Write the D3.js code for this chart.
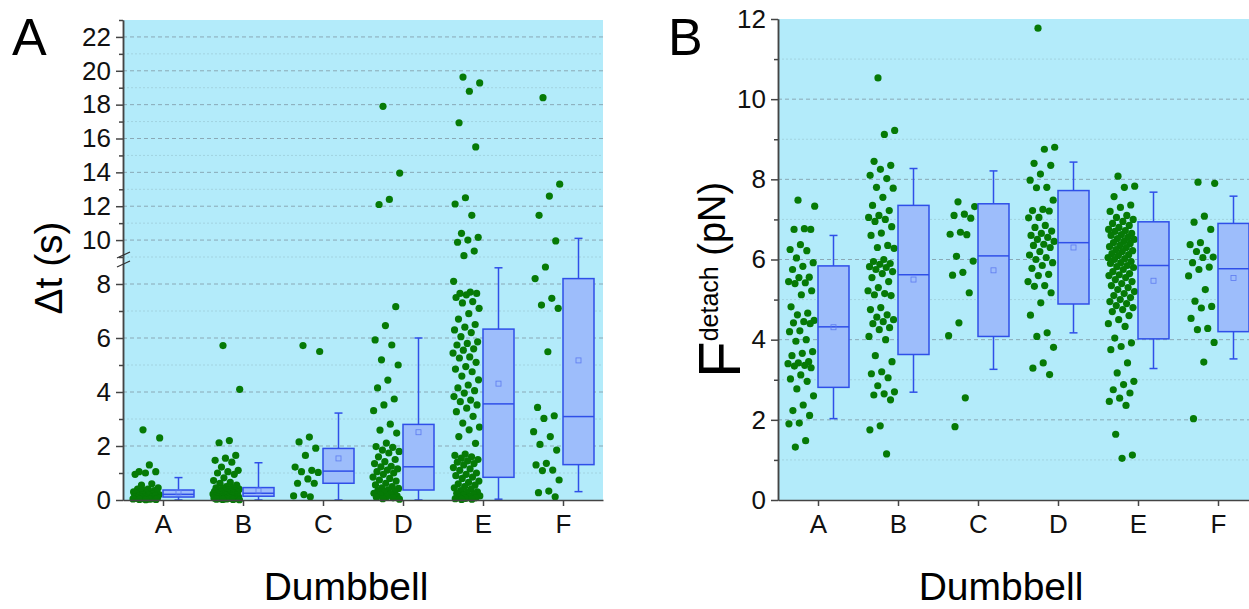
<!DOCTYPE html>
<html>
<head>
<meta charset="utf-8">
<script src="https://cdn.jsdelivr.net/npm/d3@7"></script>
<style>
  body { margin: 0; background: #fff; }
  svg { font-family: 'Liberation Sans', Arial, sans-serif; }
  .axis { color: #444; }
  .axis path, .axis line { stroke-width: 1.5; }
  .axis text { fill: #111; font-family: 'Liberation Sans', Arial, sans-serif; }
</style>
</head>
<body>
<svg id="chart" width="1249" height="609"></svg>
<script>
const dumbbells = ['A', 'B', 'C', 'D', 'E', 'F']

// Panel A: dwell time (s), one list per dumbbell
const dtA = [2.6, 2.3, 1.3, 1.05, 1.05, 1.0, 0.95, 0.6, 0.55, 0.45, 0.4, 0.4, 0.35, 0.35, 0.3, 0.3, 0.3, 0.28, 0.25, 0.25,
  0.22, 0.2, 0.2, 0.18, 0.15, 0.15, 0.12, 0.12, 0.1, 0.1, 0.08, 0.08, 0.06, 0.05, 0.05, 0.04, 0.03, 0.02, 0.02, 0.01]
const dtB = [5.72, 4.1, 2.2, 2.12, 1.65, 1.55, 1.47, 1.4, 1.22, 1.1, 1.05, 1.0, 0.95, 0.82, 0.72, 0.65, 0.62, 0.55, 0.5,
  0.45, 0.45, 0.42, 0.4, 0.38, 0.36, 0.35, 0.33, 0.32, 0.3, 0.3, 0.28, 0.27, 0.25, 0.25, 0.23, 0.22, 0.2, 0.2, 0.18,
  0.17, 0.15, 0.15, 0.13, 0.12, 0.1, 0.1, 0.09, 0.08, 0.07, 0.06, 0.05, 0.05, 0.04, 0.03, 0.02, 0.02, 0.01]
const dtC = [5.72, 5.5, 2.33, 2.15, 1.92, 1.65, 1.22, 1.1, 1.05, 1.02, 0.78, 0.62, 0.62, 0.2, 0.15, 0.12]
const dtD = [17.9, 13.96, 12.4, 12.1, 7.16, 6.46, 5.93, 5.74, 5.19, 5.0, 4.44, 4.15, 3.74, 3.52, 3.31, 2.81, 2.59, 2.48,
  2.11, 1.98, 1.95, 1.85, 1.8, 1.74, 1.6, 1.5, 1.42, 1.35, 1.25, 1.23, 1.15, 1.11, 1.05, 1.0, 0.95, 0.85, 0.8, 0.74,
  0.7, 0.62, 0.56, 0.5, 0.45, 0.43, 0.38, 0.35, 0.31, 0.28, 0.25, 0.22, 0.19, 0.15, 0.12, 0.1, 0.08, 0.05, 0.03]
const dtE = [19.63, 19.28, 18.79, 16.93, 15.5, 12.5, 12.13, 11.46, 10.4, 10.16, 10.0, 9.87, 9.35, 9.08,
  8.1, 7.7, 7.65, 7.65, 7.6, 7.5, 7.35, 7.3, 7.1, 6.9, 6.7, 6.5, 6.4, 6.3, 6.2, 6.05, 5.86, 5.8, 5.74, 5.6, 5.55, 5.44,
  5.3, 5.26, 5.1, 4.94, 4.85, 4.75, 4.59, 4.45, 4.26, 4.15, 4.05, 3.96, 3.83, 3.7, 3.64, 3.52, 3.4, 3.27, 3.1, 2.85,
  2.7, 2.6, 2.35, 2.1, 1.7, 1.65, 1.6, 1.55, 1.5, 1.45, 1.4, 1.35, 1.3, 1.2, 1.15, 1.1, 1.0, 0.95, 0.9, 0.85, 0.8,
  0.7, 0.65, 0.6, 0.55, 0.5, 0.45, 0.4, 0.35, 0.3, 0.28, 0.25, 0.2, 0.18, 0.15, 0.12, 0.1, 0.08, 0.06, 0.05, 0.03, 0.02]
const dtF = [18.41, 13.3, 12.6, 11.46, 9.95, 8.63, 8.2, 7.47, 7.22, 7.1, 5.49, 3.43, 3.12, 3.02, 2.53, 2.35, 2.06,
  1.85, 1.36, 1.3, 1.11, 1.09, 0.74, 0.33, 0.27, 0.12]
// box stats: [min, q1, median, q3, max, mean]
const dtBoxes = [
  [0, 0.11, 0.21, 0.37, 0.83, 0.28],
  [0, 0.14, 0.25, 0.46, 1.38, 0.35],
  [0, 0.62, 1.07, 1.91, 3.22, 1.54],
  [0, 0.37, 1.23, 2.8, 6.0, 2.51],
  [0.03, 0.84, 3.56, 6.33, 8.6, 4.31],
  [0.31, 1.31, 3.09, 8.2, 10.1, 5.17]
]
const dtLowTicks = [0, 2, 4, 6, 8]
const dtLowMinor = [1, 3, 5, 7]
const dtHighTicks = [10, 12, 14, 16, 18, 20, 22]
const dtHighMinor = [9, 11, 13, 15, 17, 19, 21, 23]

// Panel B: detachment force (pN)
const fA = [7.48, 7.33, 6.77, 6.75, 6.75, 6.37, 6.25, 6.22, 6.04, 5.92, 5.83, 5.75, 5.56, 5.55, 5.45, 5.42, 5.4, 5.22,
  5.12, 4.82, 4.66, 4.62, 4.48, 4.45, 4.42, 4.4, 4.22, 4.2, 4.0, 3.96, 3.7, 3.66, 3.6, 3.45, 3.42, 3.4, 3.36, 3.34,
  3.3, 3.12, 3.02, 2.96, 2.77, 2.6, 2.37, 2.23, 2.11, 1.92, 1.9, 1.48, 1.32]
const fB = [10.53, 9.22, 9.12, 8.45, 8.35, 8.25, 8.1, 8.02, 7.8, 7.78, 7.55, 7.35, 7.22, 7.1, 7.05, 7.0, 6.95, 6.82,
  6.66, 6.6, 6.35, 6.3, 6.28, 6.0, 5.95, 5.9, 5.88, 5.82, 5.8, 5.75, 5.7, 5.65, 5.55, 5.45, 5.3, 5.22, 5.15, 5.12,
  5.1, 4.8, 4.75, 4.62, 4.56, 4.5, 4.45, 4.4, 4.3, 4.25, 4.08, 4.0, 3.6, 3.45, 3.2, 3.15, 3.05, 2.85, 2.7, 2.65,
  2.62, 2.5, 1.85, 1.75, 1.15]
const fC = [7.44, 7.32, 7.13, 7.1, 7.03, 6.68, 6.63, 6.62, 6.08, 5.96, 5.68, 5.61, 5.17, 4.42, 4.1, 2.55, 1.83]
const fD = [11.77, 8.8, 8.75, 8.4, 8.35, 8.13, 7.98, 7.8, 7.79, 7.48, 7.25, 7.22, 7.21, 7.05, 7.04, 6.85, 6.8, 6.71,
  6.65, 6.6, 6.55, 6.5, 6.45, 6.38, 6.35, 6.3, 6.2, 6.11, 6.05, 6.0, 5.92, 5.85, 5.78, 5.63, 5.6, 5.45, 5.35, 5.33,
  5.17, 4.92, 4.61, 4.17, 4.08, 3.81, 3.42, 3.29, 3.13]
const fE = [8.08, 7.83, 7.8, 7.57, 7.36, 7.3, 7.2, 7.1, 7.05, 7.0, 6.95, 6.9, 6.85, 6.8, 6.75, 6.72, 6.7, 6.65, 6.62,
  6.6, 6.55, 6.52, 6.5, 6.45, 6.42, 6.4, 6.35, 6.32, 6.3, 6.25, 6.22, 6.2, 6.15, 6.12, 6.1, 6.05, 6.02, 6.0, 5.95,
  5.92, 5.9, 5.85, 5.82, 5.8, 5.75, 5.7, 5.65, 5.62, 5.6, 5.55, 5.5, 5.45, 5.4, 5.35, 5.3, 5.25, 5.2, 5.15, 5.1,
  5.05, 5.0, 4.95, 4.9, 4.85, 4.8, 4.75, 4.7, 4.6, 4.5, 4.4, 4.33, 4.04, 3.92, 3.83, 3.75, 3.42, 3.17, 2.96, 2.88,
  2.75, 2.67, 2.54, 2.46, 2.36, 1.64, 1.12, 1.04]
const fF = [7.93, 7.9, 7.08, 6.93, 6.75, 6.42, 6.37, 6.23, 6.2, 6.06, 6.05, 5.92, 5.81, 5.75, 5.59, 5.25, 4.96, 4.83,
  4.79, 4.53, 4.28, 4.25, 3.93, 3.44, 2.03]
const fBoxes = [
  [2.03, 2.81, 4.32, 5.84, 6.6, 4.31],
  [2.69, 3.63, 5.62, 7.35, 8.27, 5.5],
  [3.26, 4.08, 6.09, 7.39, 8.21, 5.73],
  [4.17, 4.89, 6.42, 7.72, 8.43, 6.3],
  [3.28, 4.02, 5.85, 6.94, 7.68, 5.47],
  [3.52, 4.2, 5.77, 6.9, 7.58, 5.54]
]
const fTicks = [0, 2, 4, 6, 8, 10, 12]
const fMinor = [1, 3, 5, 7, 9, 11]

const svg = d3.select('#chart')
const bottom = 500
const plotWidth = 480

// spread the points of one column over its strip, same order every time
const jitter = k => (k * 0.6180339887 + 0.37) % 1

function yAxis (g, left, scale, majors, minors) {
  const ax = g.append('g').attr('class', 'axis').attr('transform', `translate(${left},0)`)
  ax.call(d3.axisLeft(scale).tickValues(minors).tickSize(4).tickSizeOuter(0).tickFormat(''))
  ax.append('g').call(d3.axisLeft(scale).tickValues(majors).tickSize(7).tickSizeOuter(0).tickPadding(5))
  ax.selectAll('text').style('font-size', '26px')
}

function panel ({ left, top, y, majors, minors, columns, boxes }) {
  const x = d3.scalePoint().domain(dumbbells).range([left, left + plotWidth]).padding(0.5)
  const g = svg.append('g')

  g.append('rect')
    .attr('x', left).attr('y', top)
    .attr('width', plotWidth).attr('height', bottom - top)
    .attr('fill', '#b3ebfa')

  g.append('g').selectAll('line').data(minors.filter(v => y(v) > top + 1)).join('line')
    .attr('x1', left).attr('x2', left + plotWidth)
    .attr('y1', d => y(d)).attr('y2', d => y(d))
    .attr('stroke', '#a2d3e0').attr('stroke-dasharray', '2,2')
  g.append('g').selectAll('line').data(majors.filter(v => v > 0 && y(v) > top + 1)).join('line')
    .attr('x1', left).attr('x2', left + plotWidth)
    .attr('y1', d => y(d)).attr('y2', d => y(d))
    .attr('stroke', '#8aa9b6').attr('stroke-dasharray', '4,3')

  columns.forEach((vals, i) => {
    const cx = x(dumbbells[i])
    g.append('g').selectAll('circle').data(vals).join('circle')
      .attr('cx', (d, k) => cx - 30 + 27 * jitter(k))
      .attr('cy', d => y(d))
      .attr('r', 3.6)
      .attr('fill', '#067a06')
  })

  const bw = 31
  boxes.forEach((b, i) => {
    const [lo, q1, med, q3, hi, mean] = b
    const x0 = x(dumbbells[i])
    const xc = x0 + bw / 2
    const bg = g.append('g').attr('stroke', '#2f4fe8').attr('stroke-width', 1.5)
    bg.append('line').attr('x1', xc).attr('x2', xc).attr('y1', y(hi)).attr('y2', y(q3))
    bg.append('line').attr('x1', xc).attr('x2', xc).attr('y1', y(q1)).attr('y2', y(lo))
    bg.append('line').attr('x1', xc - 4).attr('x2', xc + 4).attr('y1', y(hi)).attr('y2', y(hi))
    bg.append('line').attr('x1', xc - 4).attr('x2', xc + 4).attr('y1', y(lo)).attr('y2', y(lo))
    bg.append('rect')
      .attr('x', x0).attr('y', y(q3))
      .attr('width', bw).attr('height', y(q1) - y(q3))
      .attr('fill', '#9dbdfb')
    bg.append('line').attr('x1', x0).attr('x2', x0 + bw).attr('y1', y(med)).attr('y2', y(med))
    bg.append('rect')
      .attr('x', xc - 2.5).attr('y', y(mean) - 2.5)
      .attr('width', 5).attr('height', 5)
      .attr('fill', 'none').attr('stroke', '#5d7bf0').attr('stroke-width', 0.8)
  })

  const xa = g.append('g').attr('class', 'axis')
    .attr('transform', `translate(0,${bottom})`)
    .call(d3.axisBottom(x).tickSize(6).tickSizeOuter(0).tickPadding(9))
  xa.selectAll('text').style('font-size', '26px')

  return g
}

// Panel A, broken axis: 0-9 below the break, 9-23 above
const yLow = d3.scaleLinear().domain([0, 9]).range([bottom, 257])
const yHigh = d3.scaleLinear().domain([9, 23]).range([257, 20])
const yBroken = v => v <= 9 ? yLow(v) : yHigh(v)

const gA = panel({
  left: 123,
  top: 20,
  y: yBroken,
  majors: dtLowTicks.concat(dtHighTicks),
  minors: dtLowMinor.concat(dtHighMinor),
  columns: [dtA, dtB, dtC, dtD, dtE, dtF],
  boxes: dtBoxes
})
yAxis(gA, 123, yLow, dtLowTicks, dtLowMinor)
yAxis(gA, 123, yHigh, dtHighTicks, dtHighMinor)
gA.append('g').attr('stroke', '#333').attr('stroke-width', 1.3)
  .selectAll('line').data([258, 267]).join('line')
  .attr('x1', 117).attr('x2', 130)
  .attr('y1', d => d).attr('y2', d => d - 6)

const yF = d3.scaleLinear().domain([0, 12]).range([bottom, 19])
const gB = panel({
  left: 778,
  top: 19,
  y: yF,
  majors: fTicks,
  minors: fMinor,
  columns: [fA, fB, fC, fD, fE, fF],
  boxes: fBoxes
})
yAxis(gB, 778, yF, fTicks, fMinor)

// labels
svg.append('text').attr('x', 12).attr('y', 55).attr('font-size', 52).text('A')
svg.append('text').attr('x', 668).attr('y', 55).attr('font-size', 52).text('B')

svg.append('text')
  .attr('transform', 'translate(62,268) rotate(-90)')
  .attr('text-anchor', 'middle').attr('font-size', 39)
  .text('Δt (s)')

const fLabel = svg.append('text').attr('transform', 'translate(740,378) rotate(-90)')
fLabel.append('tspan').attr('font-size', 60).text('F')
fLabel.append('tspan').attr('font-size', 25).attr('dy', -22).text('detach')
fLabel.append('tspan').attr('font-size', 38).attr('dy', 7).text(' (pN)')

svg.selectAll('.xtitle').data([346, 1001]).join('text')
  .attr('x', d => d).attr('y', 600)
  .attr('text-anchor', 'middle').attr('font-size', 39)
  .text('Dumbbell')
</script>
</body>
</html>
